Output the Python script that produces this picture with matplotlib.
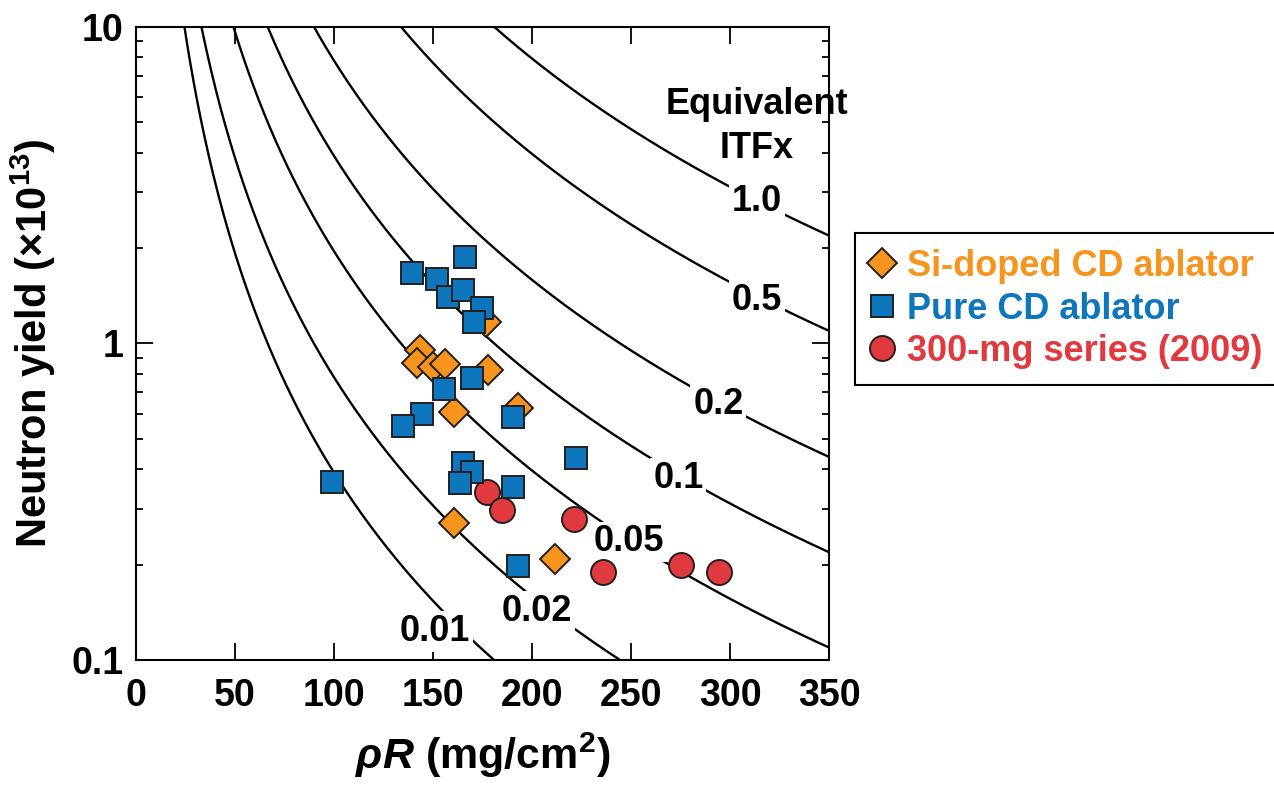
import numpy as np
import matplotlib
matplotlib.use('Agg')
import matplotlib.pyplot as plt
from matplotlib.ticker import NullFormatter

plt.rcParams['font.family'] = ['Liberation Sans', 'DejaVu Sans']
plt.rcParams['font.weight'] = 'bold'
plt.rcParams['axes.labelweight'] = 'bold'
plt.rcParams['mathtext.fontset'] = 'custom'
plt.rcParams['mathtext.rm'] = 'Liberation Sans:bold'
plt.rcParams['mathtext.it'] = 'Liberation Sans:italic:bold'
plt.rcParams['mathtext.bf'] = 'Liberation Sans:bold'

# Si-doped CD ablator shots (rhoR in mg/cm2, yield in 1e13)
si_rho = [143.4, 141.8, 150.2, 156.1, 177.0, 178.0, 160.8, 193.1, 160.6, 211.6]
si_yield = [0.95, 0.865, 0.844, 0.861, 1.17, 0.823, 0.608, 0.623, 0.270, 0.208]

# Pure CD ablator shots
cd_rho = [139.2, 166.2, 151.9, 157.7, 165.3, 174.9, 170.9, 169.5, 155.6, 144.3,
          135.0, 190.2, 222.2, 165.3, 169.5, 163.6, 190.6, 98.8, 193.1]
cd_yield = [1.67, 1.88, 1.60, 1.40, 1.47, 1.29, 1.165, 0.78, 0.716, 0.60,
            0.549, 0.584, 0.433, 0.42, 0.393, 0.361, 0.352, 0.366, 0.198]

# 300-mg series (2009)
mg_rho = [177.1, 185.0, 221.2, 236.0, 275.3, 294.4]
mg_yield = [0.340, 0.298, 0.279, 0.189, 0.200, 0.189]

# equivalent ITFx contours: Y = y_ref * ITFx * (rho_ref / rhoR)^n
itfx_levels = [0.01, 0.02, 0.05, 0.1, 0.2, 0.5, 1.0]
itfx_text = ['0.01', '0.02', '0.05', '0.1', '0.2', '0.5', '1.0']
y_ref = 2.19
rho_ref = 350.0
n_exp = 2.3

# where the contour labels sit (data coords)
lab_rho = [151.0, 202.4, 249.1, 273.9, 294.1, 313.5, 313.5]
lab_y = [0.1228, 0.142, 0.236, 0.375, 0.639, 1.37, 2.80]

orange = '#F7941E'
blue = '#0E76BC'
red = '#E0393E'
edge = '#231F20'

fig = plt.figure(figsize=(12.74, 7.91), dpi=100)
ax = fig.add_axes([0.1068, 0.1656, 0.5439, 0.8006])

rho = np.linspace(5, 350, 600)
for lev in itfx_levels:
    ax.plot(rho, y_ref * lev * (rho_ref / rho) ** n_exp, color='k', lw=1.7, zorder=2)

for txt, x, y in zip(itfx_text, lab_rho, lab_y):
    ax.text(x, y, txt, fontsize=26, ha='center', va='center', zorder=2.5,
            bbox=dict(boxstyle='square,pad=0.08', fc='white', ec='none'))

ax.text(313.6, 4.84, 'Equivalent\nITFx', fontsize=26, ha='center', va='center',
        linespacing=1.3, zorder=2.5)

ms_kw = dict(linestyle='none', markeredgecolor=edge, markeredgewidth=1.4)
h_si, = ax.plot(si_rho, si_yield, marker='D', ms=15, color=orange, zorder=3, **ms_kw)
h_mg, = ax.plot(mg_rho, mg_yield, marker='o', ms=18, color=red, zorder=4, **ms_kw)
h_cd, = ax.plot(cd_rho, cd_yield, marker='s', ms=16, color=blue, zorder=5, **ms_kw)

ax.set_xlim(0, 350)
ax.set_yscale('log')
ax.set_ylim(0.1, 10)
ax.set_xticks(np.arange(0, 351, 50))
ax.set_yticks([0.1, 1, 10])
ax.set_yticklabels(['0.1', '1', '10'])
ax.yaxis.set_minor_formatter(NullFormatter())

ax.tick_params(which='major', direction='in', length=12, width=1.3,
               top=True, right=True, labelsize=27)
ax.tick_params(axis='x', pad=13)
ax.tick_params(axis='y', pad=9)
ax.tick_params(which='minor', direction='in', length=5, width=1.3, right=True)
for sp in ax.spines.values():
    sp.set_linewidth(1.5)

ax.set_xlabel(r'$\rho R$ (mg/cm$^2$)', fontsize=31, labelpad=12)
ax.set_ylabel(r'Neutron yield ($\times$10$^{13}$)', fontsize=30, labelpad=10)

leg = fig.legend([h_si, h_cd, h_mg],
                 ['Si-doped CD ablator', 'Pure CD ablator', '300-mg series (2009)'],
                 loc='upper left', bbox_to_anchor=(855 / 1274, 1 - 232.7 / 791),
                 fontsize=26, frameon=True, fancybox=False, framealpha=1,
                 edgecolor='k', borderaxespad=0, handlelength=0.6,
                 handletextpad=0.4, borderpad=0.45, labelspacing=0.21)
leg.get_frame().set_linewidth(1.5)
for t, c in zip(leg.get_texts(), [orange, blue, red]):
    t.set_color(c)

fig.savefig('out.png', dpi=100)
